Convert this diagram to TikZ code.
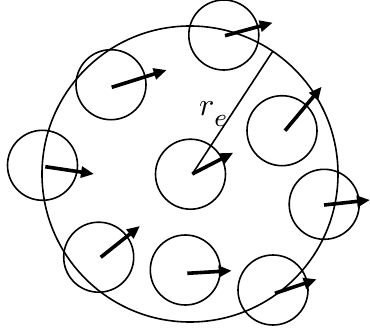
\documentclass[tikz,border=0pt]{standalone}
\usetikzlibrary{arrows.meta}
\begin{document}
\begin{tikzpicture}[x=1pt,y=-1pt,
  ring/.style={circle,draw,line width=1.6pt,minimum size=70pt,inner sep=0pt,outer sep=0pt},
  bigring/.style={circle,draw,line width=1.6pt,minimum size=296pt,inner sep=0pt,outer sep=0pt},
  vec/.style={line width=3.6pt,-{Triangle[length=13pt,width=11pt]}},
  radius/.style={line width=1.6pt}]
\useasboundingbox (0,0) rectangle (370,332);
\node[bigring] (big) at (190,174) {};
\node[ring] (c1) at (223.8,35) {};
\node[ring] (c2) at (111,84.7) {};
\node[ring] (c3) at (42.5,165.3) {};
\node[ring] (c4) at (190.5,174.2) {};
\node[ring] (c5) at (282,130.7) {};
\node[ring] (c6) at (324.2,204.3) {};
\node[ring] (c7) at (98.7,257.2) {};
\node[ring] (c8) at (185.3,270) {};
\node[ring] (c9) at (273,290) {};
\coordinate (s1) at (225,35.7);   \coordinate (t1) at (272.7,22.7);
\coordinate (s2) at (111.7,87.3); \coordinate (t2) at (166.7,70);
\coordinate (s3) at (45.3,166.7); \coordinate (t3) at (94,174);
\coordinate (s4) at (192.3,174);  \coordinate (t4) at (233.3,152.7);
\coordinate (s5) at (285,130.7);  \coordinate (t5) at (321.7,86.7);
\coordinate (s6) at (324,205);    \coordinate (t6) at (370,200);
\coordinate (s7) at (100.7,257.3);\coordinate (t7) at (140,226);
\coordinate (s8) at (187.3,273.3);\coordinate (t8) at (231.7,270.7);
\coordinate (s9) at (275,293.3);  \coordinate (t9) at (316.7,279.3);
\draw[radius] (s4) -- (big.56);
\foreach \i in {1,...,9} {\draw[vec] (s\i) -- (t\i);}
\node[inner sep=0pt] (lbl) at (213,114) {\scalebox{3.2}{$r$\raisebox{-3.5pt}{\footnotesize$e$}}};
\end{tikzpicture}
\end{document}
